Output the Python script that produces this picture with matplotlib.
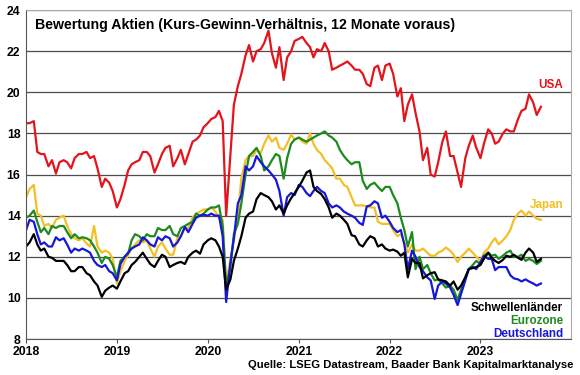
import matplotlib
matplotlib.use("Agg")
import matplotlib.pyplot as plt
import matplotlib.dates as mdates
import pandas as pd

plt.rcParams['font.family'] = ['Liberation Sans', 'DejaVu Sans']

# half-monthly observations, Jan 2018 - Sep 2023
dates = pd.date_range("2018-01-01", periods=137, freq="SMS")

usa = [18.5, 18.5, 18.6, 17.1, 17.0, 17.0, 16.4, 16.7, 16.05, 16.6, 16.7, 16.6,
       16.3, 16.8, 17.0, 17.0, 17.1, 16.8, 16.9, 16.3, 15.4, 15.8, 15.6, 15.2,
       14.4, 14.8, 15.5, 16.2, 16.5, 16.6, 16.7, 17.1, 17.1, 16.9, 16.1, 16.5,
       17.0, 17.3, 17.4, 16.4, 16.8, 17.2, 16.5, 17.0, 17.6, 17.7, 17.9, 18.3,
       18.5, 18.7, 18.8, 19.1, 18.6, 14.0, 17.0, 19.4, 20.3, 20.9, 21.8, 22.3,
       21.5, 22.0, 22.1, 22.4, 23.0, 21.9, 21.2, 22.2, 20.6, 21.7, 22.0, 22.5,
       22.6, 22.7, 22.4, 22.2, 21.7, 22.1, 22.0, 22.4, 22.0, 21.1, 21.2, 21.3,
       21.4, 21.5, 21.3, 21.1, 21.1, 20.9, 20.4, 20.3, 21.2, 21.3, 20.6, 21.3,
       21.4, 20.9, 19.8, 20.2, 18.6, 19.4, 19.9, 19.0, 18.1, 16.7, 17.3, 16.0,
       15.9, 16.6, 17.6, 18.1, 16.9, 16.9, 16.1, 15.4, 16.8, 17.4, 17.9, 17.3,
       16.8, 17.5, 18.2, 18.0, 17.5, 17.6, 18.0, 18.2, 18.1, 18.1, 18.7, 19.1,
       19.2, 19.9, 19.5, 18.9, 19.3]

japan = [14.9, 15.3, 15.5, 14.1, 14.0, 13.5, 13.6, 13.4, 13.8, 13.9, 14.0, 13.5,
         13.1, 12.9, 12.8, 12.9, 12.65, 12.5, 13.5, 12.5, 12.2, 12.3, 12.2, 11.9,
         10.7, 11.3, 11.8, 12.1, 12.4, 12.6, 12.8, 12.7, 12.8, 12.4, 12.0, 12.5,
         12.7, 12.4, 12.1, 12.1, 12.9, 13.0, 13.4, 13.4, 13.9, 14.1, 14.2, 14.3,
         14.3, 14.4, 14.2, 13.9, 13.8, 10.6, 11.9, 12.8, 14.0, 15.8, 16.7, 16.9,
         16.9, 17.2, 17.05, 17.5, 17.9, 17.6, 17.8, 17.3, 17.2, 17.5, 17.95, 17.7,
         17.8, 17.6, 17.5, 18.0, 17.5, 17.2, 17.0, 16.7, 16.5, 16.3, 15.8, 15.8,
         15.5, 15.4, 14.9, 14.5, 14.5, 14.5, 14.45, 14.4, 14.4, 13.7, 13.6, 13.6,
         13.6, 13.3, 13.0, 13.1, 12.7, 12.2, 12.6, 12.3, 12.3, 12.4, 12.2, 12.05,
         12.05, 12.2, 12.3, 12.45, 12.3, 12.1, 11.75, 12.0, 12.2, 12.4, 12.2, 12.0,
         11.8, 12.2, 12.4, 12.7, 12.9, 12.6, 12.8, 13.0, 13.3, 13.8, 14.1, 14.25,
         14.0, 14.2, 14.0, 13.85, 13.8]

eurozone = [13.9, 14.0, 14.25, 13.7, 13.2, 13.4, 13.1, 13.5, 13.4, 13.5, 13.5, 13.2,
            12.9, 13.1, 12.9, 12.95, 12.9, 12.8, 12.5, 12.2, 11.7, 12.0, 11.9, 11.6,
            11.0, 11.8, 12.0, 12.15, 12.8, 13.1, 13.0, 12.8, 13.1, 13.0, 13.0, 13.4,
            13.3, 13.3, 13.5, 13.1, 13.0, 13.4, 13.5, 13.6, 13.7, 14.1, 14.0, 14.1,
            14.3, 14.4, 14.4, 14.5, 13.5, 10.6, 11.5, 13.1, 13.6, 14.6, 16.0, 16.9,
            17.1, 17.3, 16.9, 16.2, 16.4, 16.7, 17.0, 16.9, 15.8, 16.8, 17.5, 17.7,
            17.8, 17.7, 17.6, 17.7, 17.8, 17.9, 18.0, 18.1, 17.9, 17.8, 17.6, 17.2,
            16.9, 16.7, 16.5, 16.6, 16.6, 15.7, 15.3, 15.5, 15.6, 15.4, 15.2, 15.4,
            15.4, 15.0, 14.6, 13.9, 13.3, 12.5, 13.2, 11.4, 12.0, 11.4, 11.6, 11.2,
            10.85, 10.9, 10.7, 10.5, 10.6, 10.4, 9.9, 10.4, 11.0, 11.4, 11.6, 11.8,
            11.65, 12.05, 12.2, 12.05, 12.1, 11.9, 12.05, 12.2, 12.3, 12.0, 12.0, 12.1,
            11.8, 11.9, 11.8, 11.65, 11.8]

deutschland = [13.3, 13.8, 13.7, 13.1, 12.6, 12.7, 12.5, 12.5, 12.95, 12.8, 12.9, 12.6,
               12.2, 12.4, 12.3, 12.4, 12.3, 12.2, 11.8, 11.6, 11.5, 11.6, 11.3, 11.2,
               10.85, 11.65, 12.0, 12.2, 12.4, 12.5, 12.6, 12.95, 12.8, 12.6, 12.5, 12.95,
               12.8, 13.0, 12.9, 12.5, 12.7, 13.0, 13.45, 13.2, 13.6, 13.9, 14.0, 14.05,
               14.0, 14.1, 14.0, 14.0, 13.0, 9.8, 11.7, 12.9, 14.6, 15.0, 16.4, 16.2,
               16.4, 16.9, 16.6, 16.4, 16.2, 16.0, 15.75, 15.2, 14.0, 14.9, 15.1, 15.0,
               15.5, 15.4, 15.1, 14.95, 15.2, 15.4, 15.2, 15.1, 14.6, 14.4, 14.5, 14.4,
               14.2, 14.1, 14.0, 13.9, 13.65, 13.55, 14.45, 14.5, 14.7, 14.6, 13.9, 14.0,
               13.7, 13.4, 13.2, 13.3, 12.6, 11.4, 12.3, 12.0, 11.5, 11.3, 11.0, 10.85,
               9.95, 10.6, 10.8, 10.7, 10.5, 10.15, 9.65, 10.2, 10.85, 11.4, 11.5, 11.4,
               11.75, 12.05, 11.9, 11.9, 11.35, 11.5, 11.5, 11.5, 11.1, 10.95, 10.9, 10.8,
               10.9, 10.8, 10.7, 10.6, 10.7]

schwellen = [12.5, 12.7, 13.1, 12.6, 12.3, 12.4, 12.0, 11.95, 11.8, 11.8, 11.8, 11.6,
             11.3, 11.3, 11.5, 11.5, 11.2, 11.1, 10.8, 10.6, 10.05, 10.35, 10.5, 10.6,
             10.45, 10.8, 11.2, 11.3, 11.6, 11.75, 12.0, 12.2, 11.9, 11.65, 11.5, 11.8,
             12.1, 12.0, 11.5, 11.6, 11.7, 11.75, 11.65, 12.0, 12.2, 12.3, 12.15, 12.6,
             12.8, 12.9, 12.8, 12.5, 12.0, 10.4, 10.9, 11.8, 12.4, 13.0, 13.9, 14.1,
             14.2, 14.8, 15.1, 15.0, 14.9, 14.7, 14.3, 14.5, 14.1, 14.5, 14.85, 15.1,
             15.4, 15.7, 16.1, 16.2, 15.4, 15.2, 15.05, 14.8, 14.4, 13.9, 14.1, 14.0,
             13.8, 13.6, 13.05, 13.0, 12.6, 12.5, 12.8, 13.0, 12.9, 12.5, 12.6, 12.4,
             12.3, 12.35, 12.25, 12.05, 12.2, 11.0, 11.9, 11.7, 11.7, 10.95, 11.1, 11.2,
             11.25, 10.9, 10.85, 10.8, 10.6, 10.8, 10.4, 10.6, 11.0, 11.4, 11.45, 11.5,
             11.6, 11.9, 12.2, 11.95, 11.8, 11.7, 11.85, 12.05, 12.0, 12.1, 11.95, 11.85,
             12.2, 12.4, 12.2, 11.75, 11.9]

c_usa = '#e3141b'
c_jap = '#f2c025'
c_eur = '#1e8a1e'
c_de = '#1717d9'
c_em = '#000000'

fig = plt.figure(figsize=(5.8, 3.75), dpi=100)
ax = fig.add_axes([0.045, 0.096, 0.94, 0.877])

ax.plot(dates, usa, color=c_usa, lw=1.6)
ax.plot(dates, japan, color=c_jap, lw=1.6)
ax.plot(dates, eurozone, color=c_eur, lw=1.6)
ax.plot(dates, deutschland, color=c_de, lw=1.6)
ax.plot(dates, schwellen, color=c_em, lw=1.6)

ax.set_ylim(8, 24)
ax.set_yticks(range(8, 25, 2))
ax.set_xlim(pd.Timestamp("2018-01-01"), pd.Timestamp("2024-01-01"))
ax.set_xticks([pd.Timestamp(f"{y}-01-01") for y in range(2018, 2024)])
ax.xaxis.set_major_formatter(mdates.DateFormatter("%Y"))

ax.grid(axis='y', color='#4d4d4d', lw=0.9)
ax.set_axisbelow(True)
for s in ['top', 'right']:
    ax.spines[s].set_color('#aaaaaa')
for s in ['left', 'bottom']:
    ax.spines[s].set_color('#555555')
ax.tick_params(axis='y', length=0, pad=4)
ax.tick_params(axis='x', length=3, pad=2, color='#555555')
for lab in ax.get_xticklabels() + ax.get_yticklabels():
    lab.set_fontweight('bold')
    lab.set_fontsize(8.8)

ax.text(0.017, 0.975, "Bewertung Aktien (Kurs-Gewinn-Verhältnis, 12 Monate voraus)",
        transform=ax.transAxes, fontsize=10.2, fontweight='bold', va='top', ha='left')

lab_kw = dict(transform=ax.transAxes, fontsize=8.4, fontweight='bold', ha='right')
ax.text(0.985, 0.762, "USA", color=c_usa, **lab_kw)
ax.text(0.985, 0.397, "Japan", color=c_jap, **lab_kw)
ax.text(0.985, 0.085, "Schwellenländer", color=c_em, **lab_kw)
ax.text(0.985, 0.045, "Eurozone", color=c_eur, **lab_kw)
ax.text(0.985, 0.006, "Deutschland", color=c_de, **lab_kw)

fig.text(0.988, 0.012, "Quelle: LSEG Datastream, Baader Bank Kapitalmarktanalyse",
         ha='right', va='bottom', fontsize=8.1, fontweight='bold')

fig.savefig("out.png", dpi=100)
